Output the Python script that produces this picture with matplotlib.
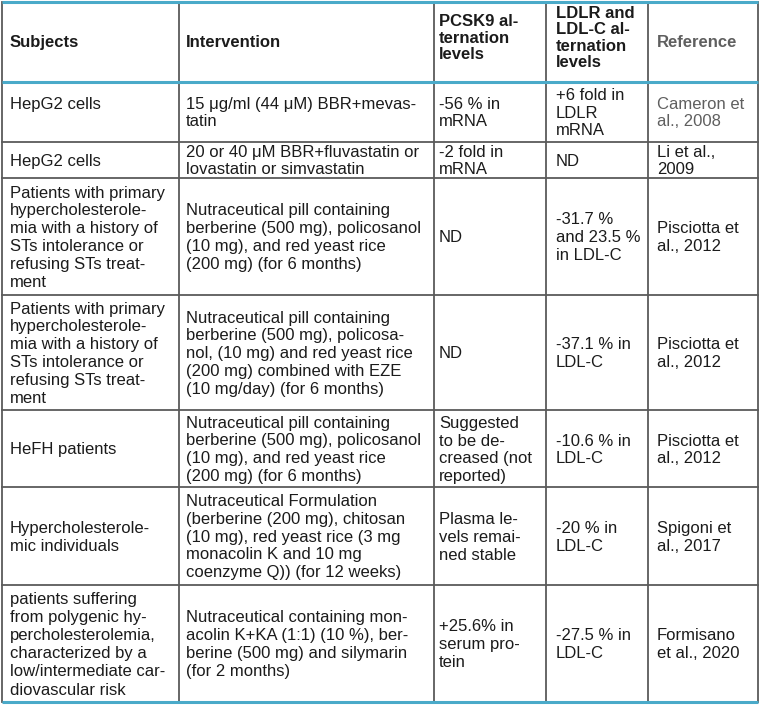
import matplotlib
matplotlib.use("Agg")
import matplotlib.pyplot as plt

# contenido de la tabla (los saltos de linea siguen al original)
encabezados = ["Subjects", "Intervention", "PCSK9 al-\nternation\nlevels",
               "LDLR and\nLDL-C al-\nternation\nlevels", "Reference"]

sujetos = [
    "HepG2 cells\n",
    "HepG2 cells",
    "Patients with primary\nhypercholesterole-\nmia with a history of\nSTs intolerance or\nrefusing STs treat-\nment",
    "Patients with primary\nhypercholesterole-\nmia with a history of\nSTs intolerance or\nrefusing STs treat-\nment",
    "HeFH patients",
    "Hypercholesterole-\nmic individuals",
    "patients suffering\nfrom polygenic hy-\npercholesterolemia,\ncharacterized by a\nlow/intermediate car-\ndiovascular risk",
]

intervenciones = [
    "15 μg/ml (44 μM) BBR+mevas-\ntatin",
    "20 or 40 μM BBR+fluvastatin or\nlovastatin or simvastatin",
    "Nutraceutical pill containing\nberberine (500 mg), policosanol\n(10 mg), and red yeast rice\n(200 mg) (for 6 months)",
    "Nutraceutical pill containing\nberberine (500 mg), policosa-\nnol, (10 mg) and red yeast rice\n(200 mg) combined with EZE\n(10 mg/day) (for 6 months)",
    "Nutraceutical pill containing\nberberine (500 mg), policosanol\n(10 mg), and red yeast rice\n(200 mg) (for 6 months)",
    "Nutraceutical Formulation\n(berberine (200 mg), chitosan\n(10 mg), red yeast rice (3 mg\nmonacolin K and 10 mg\ncoenzyme Q)) (for 12 weeks)",
    "Nutraceutical containing mon-\nacolin K+KA (1:1) (10 %), ber-\nberine (500 mg) and silymarin\n(for 2 months)",
]

pcsk9 = [
    "-56 % in\nmRNA",
    "-2 fold in\nmRNA",
    "ND",
    "ND",
    "Suggested\nto be de-\ncreased (not\nreported)",
    "Plasma le-\nvels remai-\nned stable",
    "+25.6% in\nserum pro-\ntein",
]

ldlr = [
    "+6 fold in\nLDLR\nmRNA",
    "ND",
    "-31.7 %\nand 23.5 %\nin LDL-C",
    "-37.1 % in\nLDL-C",
    "-10.6 % in\nLDL-C",
    "-20 % in\nLDL-C",
    "-27.5 % in\nLDL-C",
]

referencias = [
    "Cameron et\nal., 2008",
    "Li et al.,\n2009",
    "Pisciotta et\nal., 2012",
    "Pisciotta et\nal., 2012",
    "Pisciotta et\nal., 2012",
    "Spigoni et\nal., 2017",
    "Formisano\net al., 2020",
]

# geometria de la tabla en pixeles
bordes_col = [2, 179, 434, 546, 648, 758]
bordes_fila = [2, 82, 142, 178, 295, 410, 487, 585, 702]
x_texto = [10, 186, 439, 556, 657]
centro_encab = [41.5, 41.5, 37, 36.5, 41.5]
interlineado = [17.3, 17.3, 17.9, 17.9, 17.6, 17.7, 18.1]

AZUL = "#4aaac9"
GRIS_LINEA = "#5a5a5a"
NEGRO = "#1b1b1b"
GRIS_TEXTO = "#5f5f5f"

plt.rcParams['font.family'] = ['Liberation Sans', 'DejaVu Sans']

fig = plt.figure(figsize=(7.61, 7.19), dpi=100)
ax = fig.add_axes([0, 0, 1, 1])
ax.set_xlim(0, 761)
ax.set_ylim(719, 0)
ax.axis("off")


def escribir(x, centro, texto, paso, **kw):
    lineas = texto.split("\n")
    n = len(lineas)
    for i, l in enumerate(lineas):
        yc = centro + (i - (n - 1) / 2) * paso
        ax.text(x, yc + 5.8, l, ha="left", va="baseline", **kw)


# encabezado
for j, h in enumerate(encabezados):
    color = GRIS_TEXTO if h == "Reference" else NEGRO
    escribir(x_texto[j], centro_encab[j], h, 16.5,
             fontsize=12, fontweight="bold", color=color)

# cuerpo
columnas = [sujetos, intervenciones, pcsk9, ldlr, referencias]
for i in range(len(sujetos)):
    centro = (bordes_fila[i + 1] + bordes_fila[i + 2]) / 2
    for j, col in enumerate(columnas):
        color = GRIS_TEXTO if (j == 4 and i == 0) else NEGRO
        escribir(x_texto[j], centro, col[i], interlineado[i], fontsize=12, color=color)

# lineas
for x in bordes_col:
    ax.plot([x, x], [bordes_fila[0], bordes_fila[-1]], color=GRIS_LINEA, lw=1.3)
for k, y in enumerate(bordes_fila):
    if k in (0, 1, len(bordes_fila) - 1):
        ax.plot([bordes_col[0], bordes_col[-1]], [y, y], color=AZUL, lw=2.2, solid_capstyle="butt")
    else:
        ax.plot([bordes_col[0], bordes_col[-1]], [y, y], color=GRIS_LINEA, lw=1.3)

fig.savefig("out.png", dpi=100, facecolor="white")
